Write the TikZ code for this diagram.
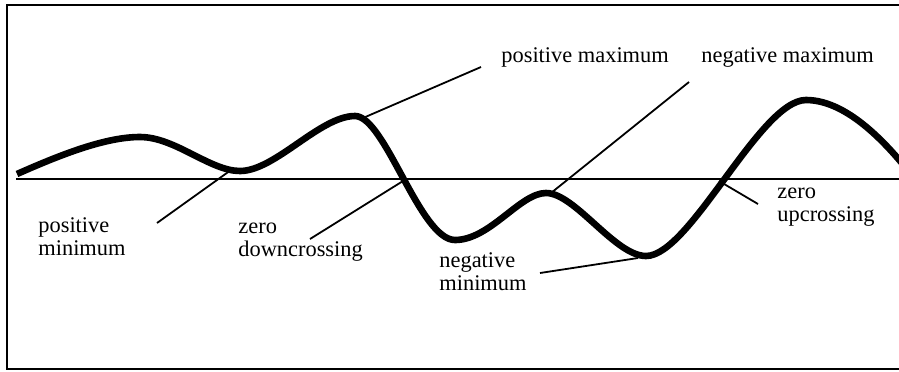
\documentclass[tikz,border=0pt]{standalone}
\usepackage{fontspec}
\setmainfont{Liberation Serif}
\begin{document}
\begin{tikzpicture}[x=0.5pt,y=-0.5pt,
  lbl/.style={anchor=base west,inner sep=0pt,align=left,font=\fontsize{11.2}{11.5}\selectfont},
  frameline/.style={line width=1.4pt},
  axisline/.style={line width=1.1pt},
  wave/.style={line width=3.3pt,line join=round},
  leader/.style={line width=0.9pt}]
\useasboundingbox (0,0) rectangle (899,371);
\clip (0,0) rectangle (899,371);
% frame (open on the right, cut by the picture edge)
\draw[frameline] (920,5) -- (7,5) -- (7,369) -- (920,369);
% axis
\draw[axisline] (16,179) -- (920,179);
% wave
\draw[wave] (17,174) .. controls (60,155) and (105,137) .. (140,137)
  .. controls (175,137) and (210,171) .. (240,171)
  .. controls (275,171) and (320,116) .. (355,116)
  .. controls (385,116) and (420,240) .. (455,240)
  .. controls (490,240) and (520,193) .. (546,193)
  .. controls (575,193) and (615,256) .. (646,256)
  .. controls (690,256) and (760,100) .. (806,100)
  .. controls (850,100) and (895,150) .. (930,200);
% points on the wave
\coordinate (pmaxpt) at (363,118);
\coordinate (nmaxpt) at (551,193);
\coordinate (pminpt) at (231,170);
\coordinate (zdpt) at (403,181);
\coordinate (nminpt) at (638,258);
\coordinate (zupt) at (719,181);
% labels (base = baseline of the last line)
\node[lbl] (pmax) at (501,62) {positive maximum};
\node[lbl] (nmax) at (701,62) {negative maximum};
\node[lbl] (pmin) at (38,255) {positive\\minimum};
\node[lbl] (zd) at (238,256) {zero\\downcrossing};
\node[lbl] (nmin) at (439,290) {negative\\minimum};
\node[lbl] (zu) at (777,221) {zero\\upcrossing};
% leader ends
\coordinate (pmaxend) at (481,67);
\coordinate (nmaxend) at (689,82);
\coordinate (pminend) at (157,223);
\coordinate (zdend) at (310,239);
\coordinate (nminend) at (540,273);
\coordinate (zuend) at (758,204);
\draw[leader] (pmaxpt) -- (pmaxend);
\draw[leader] (nmaxpt) -- (nmaxend);
\draw[leader] (pminpt) -- (pminend);
\draw[leader] (zdpt) -- (zdend);
\draw[leader] (nminpt) -- (nminend);
\draw[leader] (zupt) -- (zuend);
\end{tikzpicture}
\end{document}
